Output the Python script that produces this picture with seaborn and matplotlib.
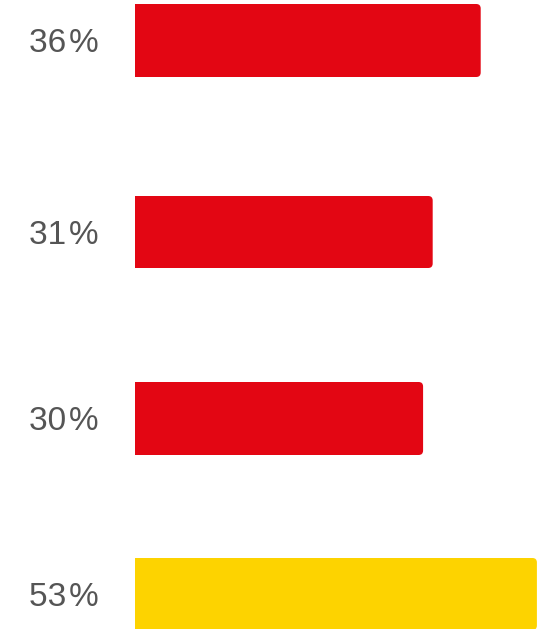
import matplotlib
matplotlib.use("Agg")
import matplotlib.pyplot as plt
from matplotlib.patches import FancyBboxPatch
import seaborn as sns

# Share of respondents per row
labels = ["36\u200a%", "31\u200a%", "30\u200a%", "53\u200a%"]
values = [36, 31, 30, 53]
colors = ["#E30613", "#E30613", "#E30613", "#FDD300"]

# Rows use their own scale: the first three share one, the last has its own
x_limits = [42.8, 42.8, 42.8, 54.2]

sns.set_theme(style="white")
plt.rcParams["font.family"] = ["Liberation Sans", "DejaVu Sans"]

W, H = 546, 629
fig = plt.figure(figsize=(W / 100, H / 100), dpi=100)
fig.patch.set_facecolor("white")

# Vertical band (top, bottom) in pixels for each row
rows_px = [(4, 77), (196, 268), (382, 455), (558, 630)]
left_px, right_px = 135, 546
radius_px = 4.5

for label, value, color, xmax, (top, bottom) in zip(labels, values, colors, x_limits, rows_px):
    ax = fig.add_axes([left_px / W, 1 - bottom / H, (right_px - left_px) / W, (bottom - top) / H])
    sns.barplot(x=[value], y=[label], ax=ax, color=color, width=1.0,
                linewidth=0, saturation=1, orient="h")
    ax.set_xlim(0, xmax)
    ax.set_ylim(0.5, -0.5)

    # round the right-hand corners of the bar
    px_per_x = (right_px - left_px) / xmax
    px_per_y = (bottom - top) / 1.0
    rx = radius_px / px_per_x
    for bar in list(ax.patches):
        x0, y0 = bar.get_x(), bar.get_y()
        w, h = bar.get_width(), bar.get_height()
        bar.set_width(w - rx)
        rounded = FancyBboxPatch((x0, y0), w, h,
                                 boxstyle=f"round,pad=0,rounding_size={rx}",
                                 mutation_aspect=px_per_x / px_per_y,
                                 facecolor=color, edgecolor="none", linewidth=0)
        ax.add_patch(rounded)

    for s in ax.spines.values():
        s.set_visible(False)
    ax.set_xlabel("")
    ax.set_ylabel("")
    ax.set_xticks([])
    ax.tick_params(axis="y", length=0, pad=36 * 72 / 100, labelsize=24, labelcolor="#555555")
    ax.patch.set_alpha(0)

fig.savefig("out.png", dpi=100, facecolor="white")
